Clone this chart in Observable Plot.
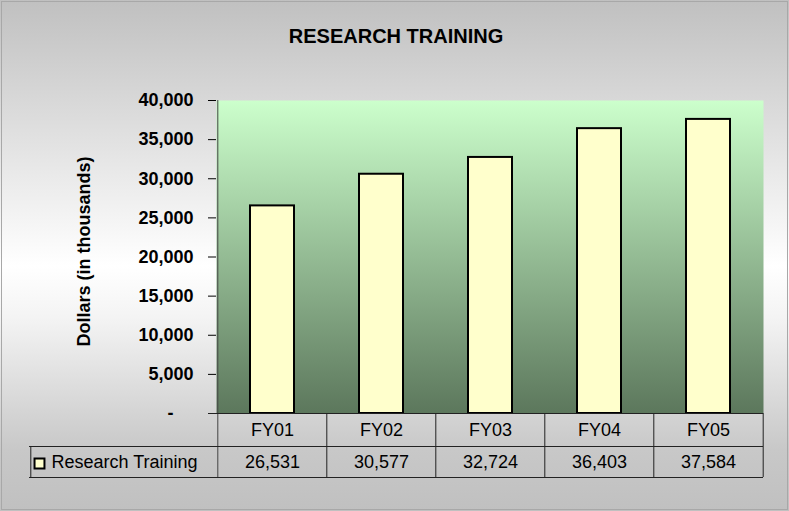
<!DOCTYPE html>
<html><head><meta charset="utf-8">
<script src="https://cdn.jsdelivr.net/npm/d3@7"></script>
<script src="https://cdn.jsdelivr.net/npm/@observablehq/plot@0.6"></script>
<style>
html,body{margin:0;padding:0;background:#fff;}
#chart{width:789px;height:511px;}
#chart svg{outline:1px solid #a8a8a8;outline-offset:-2px;}
</style></head><body>
<svg width="0" height="0" style="position:absolute">
<defs><linearGradient id="plotGrad" x1="0" y1="0" x2="0" y2="1">
<stop offset="0" stop-color="#ccffcc"/><stop offset="1" stop-color="#5c775c"/></linearGradient></defs></svg>
<div id="chart"></div>
<script>
const categories = ["FY01", "FY02", "FY03", "FY04", "FY05"];
const values = [26531, 30577, 32724, 36403, 37584];
const yTicks = [0, 5000, 10000, 15000, 20000, 25000, 30000, 35000, 40000];
const seriesName = "Research Training";
const chartTitle = "RESEARCH TRAINING";
const yLabel = "Dollars (in thousands)";

const data = categories.map((c, i) => ({fy: c, value: values[i]}));

// layout
const W = 789, H = 511, mL = 216, mR = 26, mT = 100, mB = 98;
const step = (W - mL - mR) / categories.length;
const row1 = 33, row2 = 64;          // table row bottoms below plot bottom
const tableLeft = 29;
const fmt = d3.format(",");
const font = "'Liberation Sans', Arial, sans-serif";

const plot = Plot.plot({
  width: W, height: H,
  marginTop: mT, marginBottom: mB, marginLeft: mL, marginRight: mR,
  style: {background: "linear-gradient(to bottom, #c0c0c0 0%, #ffffff 52%, #f4f4f4 62%, #c8c8c8 88%, #c0c0c0 100%)", fontFamily: font, fontSize: "18px", fontWeight: "bold", color: "#000"},
  x: {type: "band", domain: categories, paddingInner: 0.6, paddingOuter: 0.3, axis: null},
  y: {domain: [0, 40000], ticks: yTicks, tickFormat: d => d === 0 ? "-\u00a0\u00a0\u00a0\u00a0" : fmt(d), tickSize: 8, tickPadding: 15, label: null},
  marks: [
    Plot.frame({fill: "url(#plotGrad)", stroke: "none"}),
    Plot.barY(data, {x: "fy", y: "value", fill: "#ffffcc", stroke: "#000", strokeWidth: 2}),
    // y axis line extending through the table
    Plot.ruleX([categories[0]], {x: d => d, dx: -step / 2, insetBottom: -row2, stroke: "#444"}),
    // table vertical lines
    Plot.ruleX(categories.slice(1), {x: d => d, dx: -step / 2, y1: 0, y2: 0, insetBottom: -row2, stroke: "#222"}),
    Plot.ruleX([categories[categories.length - 1]], {x: d => d, dx: step / 2, y1: 0, y2: 0, insetBottom: -row2, stroke: "#222"}),
    Plot.ruleX([categories[0]], {x: d => d, dx: -step / 2 - (mL - tableLeft), y1: 0, y2: 0, insetTop: row1, insetBottom: -row2, stroke: "#222"}),
    // table horizontal lines
    Plot.ruleY([0], {insetLeft: -8, stroke: "#222"}),
    Plot.ruleY([0], {dy: row1, insetLeft: -(mL - tableLeft), stroke: "#222"}),
    Plot.ruleY([0], {dy: row2, insetLeft: -(mL - tableLeft), stroke: "#222"}),
    // table text
    Plot.text(categories, {x: d => d, frameAnchor: "bottom", lineAnchor: "middle", dy: 17, fontWeight: "normal", fontSize: 18}),
    Plot.text(data, {x: "fy", text: d => fmt(d.value), frameAnchor: "bottom", lineAnchor: "middle", dy: 49, fontWeight: "normal", fontSize: 18}),
    Plot.text([seriesName], {frameAnchor: "bottom-left", lineAnchor: "middle", dx: 51 - mL, dy: 49, textAnchor: "start", fontWeight: "normal", fontSize: 18}),
    Plot.dot([seriesName], {frameAnchor: "bottom-left", dx: 39 - mL, dy: 50, symbol: "square", r: 5.6, fill: "#ffffcc", stroke: "#000", strokeWidth: 2}),
    // title and y label
    Plot.text([chartTitle], {frameAnchor: "top", lineAnchor: "middle", dx: 395.5 - (mL + W - mR) / 2, dy: 36.5 - mT, fontSize: 20, fontWeight: "bold"}),
    Plot.text([yLabel], {frameAnchor: "left", textAnchor: "middle", lineAnchor: "middle", rotate: -90, dx: 84 - mL, dy: 251 - (mT + H - mB) / 2, fontSize: 18, fontWeight: "bold"})
  ]
});
document.getElementById("chart").append(plot);
</script>
</body></html>
